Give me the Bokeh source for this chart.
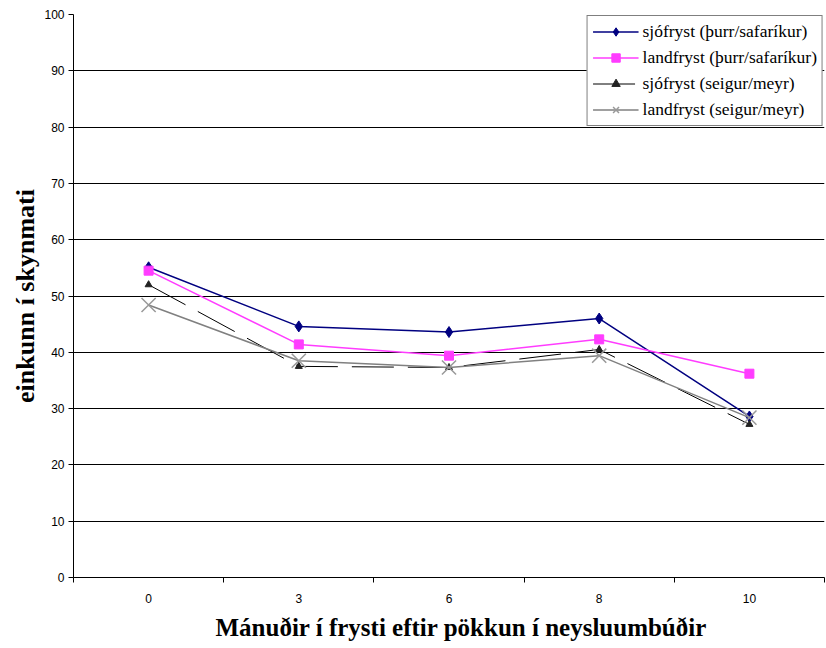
from bokeh.plotting import figure
from bokeh.models import Range1d, FixedTicker, Legend, LegendItem, Title
from bokeh.embed import file_html
from bokeh.resources import INLINE

months = ["0", "3", "6", "8", "10"]
sjo_thurr = [55.1, 44.6, 43.6, 46.0, 28.6]
land_thurr = [54.5, 41.4, 39.4, 42.3, 36.2]
sjo_seig = [52.0, 37.5, 37.3, 40.5, 27.2]
land_seig = [48.4, 38.5, 37.3, 39.4, 28.4]
y_ticks = [0, 10, 20, 30, 40, 50, 60, 70, 80, 90, 100]

xs = [i + 0.5 for i in range(len(months))]

p = figure(width=826, height=648, output_backend="svg", toolbar_location=None,
           x_range=Range1d(0, len(months)), y_range=Range1d(0, 100),
           min_border_left=73, min_border_right=2, min_border_top=14, min_border_bottom=71)
p.outline_line_color = None
p.background_fill_color = "white"
p.border_fill_color = "white"

# axes
p.xaxis.ticker = FixedTicker(ticks=xs, minor_ticks=list(range(len(months) + 1)))
p.xaxis.major_label_overrides = {x: m for x, m in zip(xs, months)}
p.xaxis.major_tick_out = 0
p.xaxis.major_tick_in = 0
p.xaxis.minor_tick_out = 5
p.xaxis.minor_tick_in = 0
p.xaxis.major_label_standoff = 11

p.yaxis.ticker = FixedTicker(ticks=y_ticks)
p.yaxis.major_tick_out = 5
p.yaxis.major_tick_in = 0
p.yaxis.minor_tick_out = 0
p.yaxis.minor_tick_in = 0
p.yaxis.major_label_standoff = 4
p.yaxis.axis_label = "einkunn í skynmati"
p.yaxis.axis_label_standoff = 1

for ax in (p.xaxis, p.yaxis):
    ax.axis_line_color = "black"
    ax.major_tick_line_color = "black"
    ax.minor_tick_line_color = "black"
    ax.major_label_text_font = "Liberation Sans"
    ax.major_label_text_font_size = "12px"
    ax.major_label_text_color = "black"
    ax.axis_label_text_font = "Liberation Serif"
    ax.axis_label_text_font_style = "bold"
    ax.axis_label_text_color = "black"
p.yaxis.axis_label_text_font_size = "26px"

xtitle = Title(text="Mánuðir í frysti eftir pökkun í neysluumbúðir", align="left", offset=142,
               text_font="Liberation Serif", text_font_size="25px", text_font_style="bold",
               text_color="black", standoff=12)
p.add_layout(xtitle, "below")

p.xgrid.grid_line_color = None
p.ygrid.ticker = FixedTicker(ticks=y_ticks)
p.ygrid.grid_line_color = "black"
p.ygrid.grid_line_width = 1

# series
l1 = p.line(xs, sjo_thurr, line_color="#000080", line_width=1.5)
s1 = p.scatter(xs, sjo_thurr, marker="diamond", size=11, fill_color="#000080", line_color="#000080")

l2 = p.line(xs, land_thurr, line_color="#ff3cff", line_width=1.5)
s2 = p.scatter(xs, land_thurr, marker="square", size=9, fill_color="#ff3cff", line_color="#ff3cff")

l3 = p.line(xs, sjo_seig, line_color="black", line_width=1, line_dash="42 14")
s3 = p.scatter(xs, sjo_seig, marker="triangle", size=7, fill_color="#222222", line_color="#222222")

l4 = p.line(xs, land_seig, line_color="#808080", line_width=1.5)
s4 = p.scatter(xs, land_seig, marker="x", size=20, line_color="#999999", line_width=1.5)

legend = Legend(items=[
    LegendItem(label="sjófryst (þurr/safaríkur)", renderers=[l1, s1]),
    LegendItem(label="landfryst (þurr/safaríkur)", renderers=[l2, s2]),
    LegendItem(label="sjófryst (seigur/meyr)", renderers=[l3, s3]),
    LegendItem(label="landfryst (seigur/meyr)", renderers=[l4, s4]),
], location="top_right")
legend.margin = 1
legend.padding = 5
legend.spacing = 5
legend.glyph_width = 46
legend.glyph_height = 21
legend.label_height = 21
legend.label_standoff = 4
legend.label_text_font = "Liberation Serif"
legend.label_text_font_size = "17.5px"
legend.label_text_color = "black"
legend.border_line_color = "black"
legend.border_line_width = 1
legend.background_fill_color = "white"
legend.background_fill_alpha = 1
p.add_layout(legend)

open("out.html", "w").write(file_html(p, INLINE))
